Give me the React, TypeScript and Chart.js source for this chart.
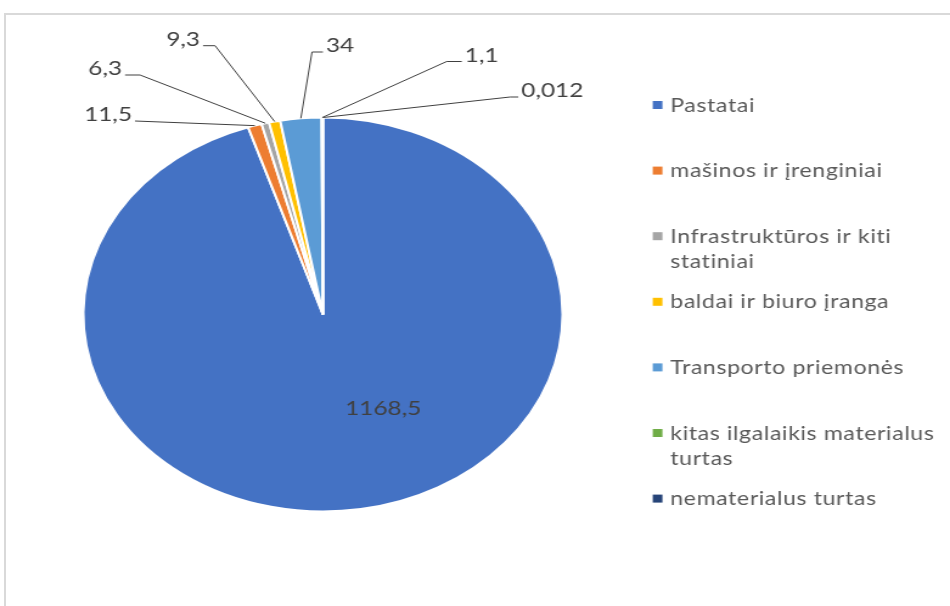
import React, { useEffect, useRef } from "react";
import { Chart, registerables } from "chart.js";

Chart.register(...registerables);

// ---- data ----
const categories = [
  "Pastatai",
  "mašinos ir įrenginiai",
  "Infrastruktūros ir kiti statiniai",
  "baldai ir biuro įranga",
  "Transporto priemonės",
  "kitas ilgalaikis materialus turtas",
  "nematerialus turtas",
];
const values = [1168.5, 11.5, 6.3, 9.3, 34, 1.1, 0.012];
const colors = ["#4472C4", "#ED7D31", "#A5A5A5", "#FFC000", "#5B9BD5", "#70AD47", "#264478"];

// ---- layout (not data) ----
const CANVAS_W = 781;
const CANVAS_H = 606;
const STRETCH = 950 / CANVAS_W;
// label anchors relative to pie centre (px); align = side of anchor where text sits
const labelLayout = [
  { inside: true, dx: 49.5, dy: 100.5 },
  { dx: -154.5, dy: -193.5, align: "right", elbow: 0 },
  { dx: -162.7, dy: -239.5, align: "right", elbow: 12.3 },
  { dx: -98.6, dy: -268.8, align: "right", elbow: 9.9 },
  { dx: 0, dy: -262.5, align: "left", elbow: 9 },
  { dx: 114.1, dy: -253, align: "left", elbow: 12.4 },
  { dx: 160.6, dy: -217.5, align: "left", elbow: 6.8 },
];
const LABEL_FONT = "20px Lato";
const LEGEND_FONT = "19px Lato";
const LEGEND_BOX_X = 536.6;
const LEGEND_TEXT_X = 551;
const LEGEND_TOP = 105;
const LEGEND_STEP = 65.6;
const LEGEND_LINE_H = 25.5;
const LEGEND_MAXW = 226;

const fmt = (v: number) => String(v).replace(".", ",");

function wrap(ctx: CanvasRenderingContext2D, text: string, maxW: number): string[] {
  const words = text.split(" ");
  const lines: string[] = [];
  let cur = "";
  for (const w of words) {
    const t = cur ? cur + " " + w : w;
    if (ctx.measureText(t).width > maxW && cur) {
      lines.push(cur);
      cur = w;
    } else cur = t;
  }
  if (cur) lines.push(cur);
  return lines;
}

const labelsPlugin = {
  id: "pieLabels",
  afterDatasetsDraw(chart: any) {
    const ctx: CanvasRenderingContext2D = chart.ctx;
    const arcs = chart.getDatasetMeta(0).data;
    if (!arcs.length) return;
    const cx = arcs[0].x;
    const cy = arcs[0].y;
    ctx.save();
    ctx.font = LABEL_FONT;
    ctx.textBaseline = "alphabetic";
    arcs.forEach((arc: any, i: number) => {
      const L: any = labelLayout[i];
      const text = fmt(values[i]);
      const ax = cx + L.dx;
      const ay = cy + L.dy;
      ctx.fillStyle = "#404040";
      if (L.inside) {
        ctx.textAlign = "center";
        ctx.fillText(text, ax, ay);
        return;
      }
      const mid = (arc.startAngle + arc.endAngle) / 2;
      const ex = arc.x + Math.cos(mid) * arc.outerRadius;
      const ey = arc.y + Math.sin(mid) * arc.outerRadius;
      const dir = L.align === "right" ? 1 : -1;
      ctx.strokeStyle = "#404040";
      ctx.lineWidth = 1;
      ctx.beginPath();
      ctx.moveTo(ax, ay);
      ctx.lineTo(ax + dir * L.elbow, ay);
      ctx.lineTo(ex, ey);
      ctx.stroke();
      ctx.textAlign = L.align === "right" ? "right" : "left";
      ctx.fillText(text, ax - dir * 2.5, ay);
    });
    ctx.restore();
  },
  afterDraw(chart: any) {
    const ctx: any = chart.ctx;
    ctx.save();
    ctx.font = LEGEND_FONT;
    ctx.letterSpacing = "0.5px";
    ctx.textAlign = "left";
    ctx.textBaseline = "alphabetic";
    categories.forEach((c, i) => {
      const yc = LEGEND_TOP + i * LEGEND_STEP;
      ctx.fillStyle = colors[i];
      ctx.fillRect(LEGEND_BOX_X, yc - 4, 8, 8);
      ctx.fillStyle = "#595959";
      const lines = wrap(ctx, c, LEGEND_MAXW);
      lines.forEach((ln, j) => ctx.fillText(ln, LEGEND_TEXT_X, yc + 6.6 + j * LEGEND_LINE_H));
    });
    ctx.restore();
  },
};

export default function App() {
  const ref = useRef<HTMLCanvasElement>(null);
  useEffect(() => {
    if (!ref.current) return;
    const chart = new Chart(ref.current, {
      type: "pie",
      data: {
        labels: categories,
        datasets: [
          {
            data: values,
            backgroundColor: colors,
            borderColor: "#ffffff",
            borderWidth: 2,
          },
        ],
      },
      options: {
        responsive: true,
        maintainAspectRatio: false,
        animation: false,
        layout: { padding: { left: 67.5, top: 116.5, right: 317.5, bottom: 93.5 } },
        plugins: { legend: { display: false }, tooltip: { enabled: false } },
      },
      plugins: [labelsPlugin],
    });
    return () => chart.destroy();
  }, []);

  return (
    <div style={{ position: "fixed", left: 0, top: 0, width: 950, height: 606, overflow: "hidden", background: "#fff" }}>
      <div
        style={{
          position: "absolute",
          left: 4,
          top: 13,
          width: 946,
          height: 593,
          borderTop: "2px solid #d9d9d9",
          borderLeft: "2px solid #d9d9d9",
          boxSizing: "border-box",
        }}
      />
      <div
        style={{
          position: "absolute",
          left: 0,
          top: 0,
          width: CANVAS_W,
          height: CANVAS_H,
          transform: `scaleX(${STRETCH})`,
          transformOrigin: "0 0",
        }}
      >
        <canvas ref={ref} />
      </div>
    </div>
  );
}
